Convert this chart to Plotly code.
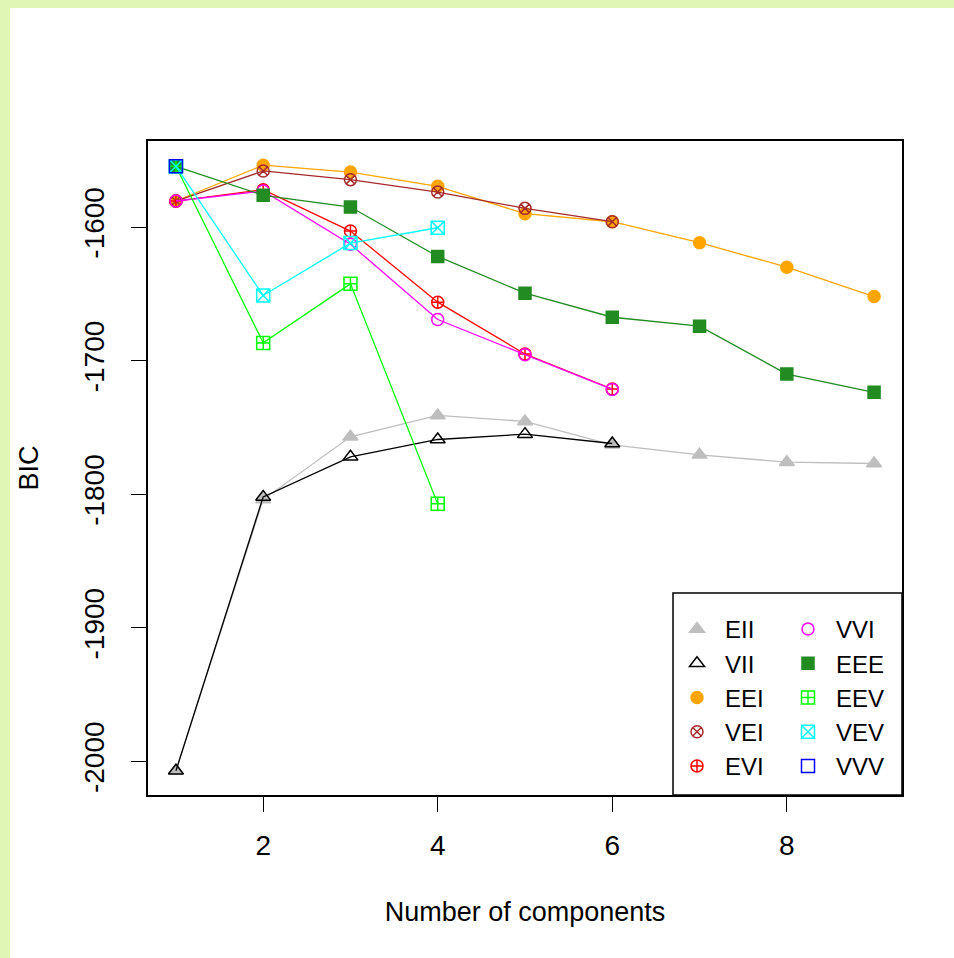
import plotly.graph_objects as go

# ---------------- data ----------------
components = [1, 2, 3, 4, 5, 6, 7, 8, 9]
models = ["EII", "VII", "EEI", "VEI", "EVI", "VVI", "EEE", "EEV", "VEV", "VVV"]

bic_EII = [-2007, -1804, -1757, -1741, -1745.5, -1763, -1770.5, -1776, -1777]
bic_VII = [-2007, -1802, -1772, -1759, -1755, -1762]
bic_EEI = [-1580.5, -1553.7, -1558.8, -1569.5, -1590, -1596, -1611.7, -1630, -1652]
bic_VEI = [-1580.5, -1558, -1564.5, -1573.8, -1586, -1596]
bic_EVI = [-1580.5, -1572, -1603, -1656.2, -1695, -1721.2]
bic_VVI = [-1580.5, -1573, -1612.8, -1669.2, -1695.5, -1721.5]
bic_EEE = [-1554.5, -1576.2, -1585, -1622, -1649.5, -1667.5, -1674.2, -1710, -1723.7]
bic_EEV = [-1554.5, -1686.7, -1642.5, -1807.2]
bic_VEV = [-1554.5, -1651.2, -1612, -1600.5]
bic_VVV = [-1554.5]

x_tick_vals = [2, 4, 6, 8]
y_tick_vals = [-2000, -1900, -1800, -1700, -1600]
y_tick_text = ["-2000", "-1900", "-1800", "-1700", "-1600"]

x_title = "Number of components"
y_title = "BIC"

series = {
    "EII": bic_EII, "VII": bic_VII, "EEI": bic_EEI, "VEI": bic_VEI, "EVI": bic_EVI,
    "VVI": bic_VVI, "EEE": bic_EEE, "EEV": bic_EEV, "VEV": bic_VEV, "VVV": bic_VVV,
}

# ---------------- styles ----------------
colors = {
    "EII": "#BEBEBE", "VII": "#000000", "EEI": "#FFA500", "VEI": "#A52A2A",
    "EVI": "#FF0000", "VVI": "#FF00FF", "EEE": "#228B22", "EEV": "#00FF00",
    "VEV": "#00FFFF", "VVV": "#0000FF",
}
symbols = {
    "EII": ("triangle-up", 13), "VII": ("triangle-up-open", 13),
    "EEI": ("circle", 12), "VEI": ("circle-x-open", 12),
    "EVI": ("circle-cross-open", 12), "VVI": ("circle-open", 12),
    "EEE": ("square", 12), "EEV": ("square-cross-open", 13),
    "VEV": ("square-x-open", 13), "VVV": ("square-open", 13),
}
legend_of = {m: ("legend" if i < 5 else "legend2") for i, m in enumerate(models)}

FONT = "Liberation Sans, Arial, sans-serif"
W, H = 954, 958
L, R, T, B = 148, 52, 141, 163
PW, PH = W - L - R, H - T - B


def px_x(px):
    return (px - L) / PW


def px_y(py):
    return (H - B - py) / PH


fig = go.Figure()
for m in models:
    ys = series[m]
    xs = components[:len(ys)]
    fig.add_trace(go.Scatter(
        x=xs, y=ys, mode="lines", line=dict(color=colors[m], width=1.3),
        showlegend=False, hoverinfo="skip"))
    sym, size = symbols[m]
    fig.add_trace(go.Scatter(
        x=xs, y=ys, mode="markers", name=m, legend=legend_of[m],
        marker=dict(symbol=sym, size=size, color=colors[m],
                    line=dict(color=colors[m], width=1.5))))

all_y = [v for m in models for v in series[m]]
ymin, ymax = min(all_y), max(all_y)
ypad = 0.04 * (ymax - ymin)
xmin, xmax = min(components), max(components)
xpad = 0.04 * (xmax - xmin)

axis_common = dict(
    showline=True, mirror=True, linecolor="black", linewidth=1.5,
    ticks="outside", ticklen=15, tickwidth=1.3, tickcolor="black",
    showgrid=False, zeroline=False,
    tickfont=dict(family=FONT, size=28, color="black"),
)

LEG_FONT = 24
fig.update_layout(
    width=W, height=H,
    margin=dict(l=L, r=R, t=T, b=B),
    paper_bgcolor="white", plot_bgcolor="white",
    xaxis=dict(range=[xmin - xpad, xmax + xpad], tickvals=x_tick_vals,
               ticklabelstandoff=10,
               title=dict(text=x_title, font=dict(family=FONT, size=27, color="black"),
                          standoff=42),
               **axis_common),
    yaxis=dict(range=[ymin - ypad, ymax + ypad], tickvals=y_tick_vals,
               ticktext=y_tick_text, tickangle=-90, ticklabelstandoff=16,
               title=dict(text=y_title, font=dict(family=FONT, size=27, color="black"),
                          standoff=33),
               **axis_common),
    legend=dict(x=px_x(669), y=px_y(607), xanchor="left", yanchor="top",
                bgcolor="rgba(0,0,0,0)", borderwidth=0, itemwidth=46,
                font=dict(family=FONT, size=LEG_FONT, color="black")),
    legend2=dict(x=px_x(780), y=px_y(607), xanchor="left", yanchor="top",
                 bgcolor="rgba(0,0,0,0)", borderwidth=0, itemwidth=46,
                 font=dict(family=FONT, size=LEG_FONT, color="black")),
    shapes=[
        # legend box
        dict(type="rect", xref="paper", yref="paper", layer="above",
             x0=px_x(673), x1=1, y0=0, y1=px_y(593),
             line=dict(color="black", width=1.5), fillcolor="white"),
        # light green page border (left and top)
        dict(type="rect", xref="paper", yref="paper", layer="below",
             x0=px_x(0), x1=px_x(10), y0=px_y(H), y1=px_y(0),
             line=dict(width=0), fillcolor="#e0f6b4"),
        dict(type="rect", xref="paper", yref="paper", layer="below",
             x0=px_x(0), x1=px_x(W), y0=px_y(8), y1=px_y(0),
             line=dict(width=0), fillcolor="#e0f6b4"),
    ],
)

fig.write_html("out.html", config={"displayModeBar": False},
               post_script="document.body.style.margin='0';document.body.style.overflow='hidden';")
